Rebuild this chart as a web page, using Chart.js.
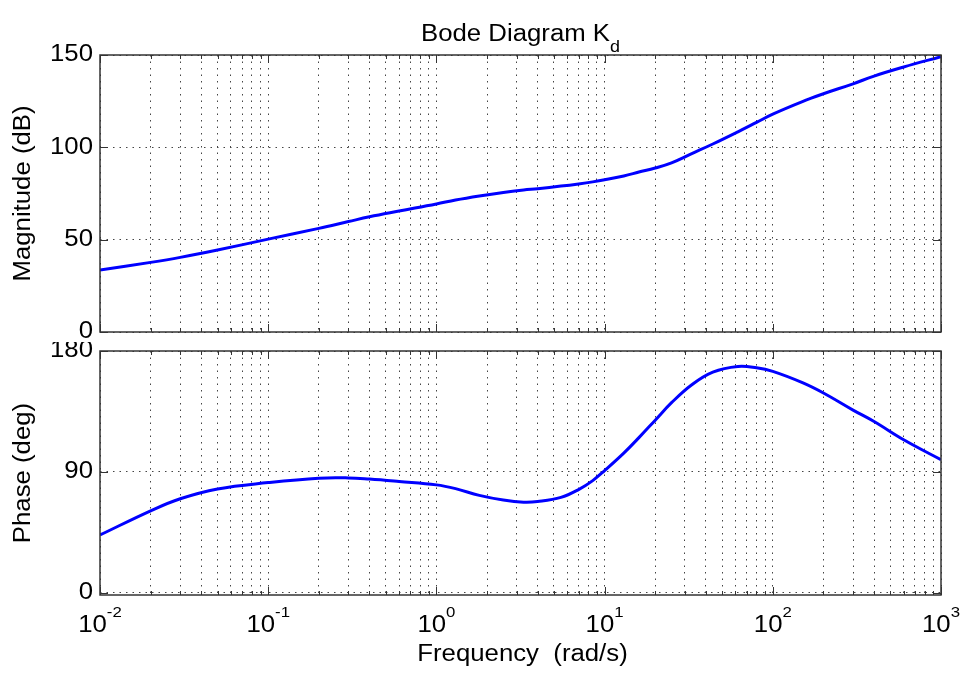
<!DOCTYPE html>
<html>
<head>
<meta charset="utf-8">
<title>Bode Diagram Kd</title>
<script src="https://cdn.jsdelivr.net/npm/chart.js@4.4.0/dist/chart.umd.min.js"></script>
<style>
  html, body { margin: 0; padding: 0; background: #fff; }
  #wrap { position: relative; width: 964px; height: 675px; overflow: hidden; }
  canvas { position: absolute; left: 0; }
  #magCanvas { top: 0; }
  #phaseCanvas { top: 342px; }
</style>
</head>
<body>
<div id="wrap">
  <canvas id="magCanvas" width="964" height="342"></canvas>
  <canvas id="phaseCanvas" width="964" height="333"></canvas>
</div>
<script>
// frequency response samples (rad/s)
const freqs = [0.01, 0.02, 0.03, 0.05, 0.1, 0.2, 0.3, 0.4, 0.6, 1, 1.3, 1.8, 2.5, 3.3, 4, 5.5, 7, 8.5,
               10, 13, 16, 20, 25, 33, 44, 62, 80, 100, 150, 200, 300, 400, 600, 1000];
const magnitudeDb = [33.6, 37.7, 40.4, 44.4, 50.3, 56.1, 59.8, 62.4, 65.5, 69.3, 71.5, 73.7, 75.6, 76.9, 77.6, 79.0, 80.2, 81.3,
                     82.4, 84.5, 86.6, 88.8, 91.6, 96.6, 101.8, 108.4, 113.5, 118.0, 124.8, 129.0, 134.4, 138.6, 143.5, 149.1];
const phaseDeg = [43.0, 61.0, 70.0, 77.3, 82.0, 85.3, 85.5, 84.6, 82.8, 80.3, 77.5, 72.5, 69.0, 67.4, 67.9, 71.0, 76.8, 83.5,
                  91.0, 104.0, 115.5, 128.5, 141.5, 154.9, 164.3, 168.5, 167.5, 164.8, 156.4, 148.7, 136.0, 127.5, 113.9, 99.0];

const decades = [0.01, 0.1, 1, 10, 100, 1000];
const decadeExponents = ['-2', '-1', '0', '1', '2', '3'];
const magTicks = [0, 50, 100, 150];
const phaseTicks = [0, 90, 180];

// 1..9 per decade for the dotted log grid
const gridFreqs = [];
decades.slice(0, -1).forEach(d => {
    for (let k = 1; k <= 9; k++) gridFreqs.push(d * k);
});
gridFreqs.push(decades[decades.length - 1]);

const FONT = "'Liberation Sans', Arial, sans-serif";
const STRETCH = 1.12;

function wideText(ctx, text, x, y, size, align, baseline, angle) {
    ctx.save();
    ctx.translate(x, y);
    if (angle) ctx.rotate(angle);
    ctx.scale(STRETCH, 1);
    ctx.font = size + 'px ' + FONT;
    ctx.textAlign = align;
    ctx.textBaseline = baseline;
    ctx.fillStyle = '#000';
    ctx.fillText(text, 0, 0);
    ctx.restore();
}

function wideWidth(ctx, text, size) {
    ctx.save();
    ctx.font = size + 'px ' + FONT;
    const w = ctx.measureText(text).width * STRETCH;
    ctx.restore();
    return w;
}

// axes box, inward tick marks and all labels
function bodeFrame(yTicks, drawExtras) {
    return {
        id: 'bodeFrame',
        afterDraw(chart) {
            const { ctx, chartArea: a, scales: { x, y } } = chart;
            ctx.save();
            ctx.strokeStyle = '#333';
            ctx.lineWidth = 1.5;
            ctx.strokeRect(a.left, a.top, a.right - a.left, a.bottom - a.top);

            ctx.lineWidth = 1;
            ctx.beginPath();
            gridFreqs.forEach(f => {
                const px = Math.round(x.getPixelForValue(f)) + 0.5;
                const len = decades.includes(f) ? 8 : 4;
                ctx.moveTo(px, a.top); ctx.lineTo(px, a.top + len);
                ctx.moveTo(px, a.bottom); ctx.lineTo(px, a.bottom - len);
            });
            yTicks.forEach(v => {
                const py = Math.round(y.getPixelForValue(v)) + 0.5;
                ctx.moveTo(a.left, py); ctx.lineTo(a.left + 8, py);
                ctx.moveTo(a.right, py); ctx.lineTo(a.right - 8, py);
            });
            ctx.stroke();
            ctx.restore();

            yTicks.forEach(v => {
                wideText(ctx, String(v), a.left - 7, y.getPixelForValue(v), 23, 'right', 'middle');
            });
            drawExtras(chart);
        }
    };
}

function bodeChart(canvasId, values, yMin, yMax, yTicks, padTop, xHeight, extras) {
    return new Chart(document.getElementById(canvasId), {
        type: 'line',
        data: {
            datasets: [{
                data: freqs.map((f, i) => ({ x: f, y: values[i] })),
                borderColor: '#0000ff',
                borderWidth: 3,
                pointRadius: 0,
                tension: 0.4,
                fill: false
            }]
        },
        options: {
            responsive: false,
            animation: false,
            events: [],
            layout: { padding: { top: padTop, right: 23, left: 0, bottom: 0 } },
            plugins: { legend: { display: false }, tooltip: { enabled: false }, title: { display: false } },
            scales: {
                x: {
                    type: 'logarithmic',
                    min: decades[0],
                    max: decades[decades.length - 1],
                    afterBuildTicks: s => { s.ticks = gridFreqs.map(v => ({ value: v })); },
                    afterFit: s => { s.height = xHeight; },
                    ticks: { display: false },
                    grid: { color: '#444', lineWidth: 1, drawTicks: false },
                    border: { display: false, dash: [1.5, 5] }
                },
                y: {
                    type: 'linear',
                    min: yMin,
                    max: yMax,
                    afterBuildTicks: s => { s.ticks = yTicks.map(v => ({ value: v })); },
                    afterFit: s => { s.width = 100; },
                    ticks: { display: false },
                    grid: { color: '#444', lineWidth: 1, drawTicks: false },
                    border: { display: false, dash: [1.5, 5] }
                }
            }
        },
        plugins: [bodeFrame(yTicks, extras)]
    });
}

// Magnitude panel with the figure title
bodeChart('magCanvas', magnitudeDb, 0, 150, magTicks, 55, 10, chart => {
    const { ctx, chartArea: a } = chart;
    const cx = (a.left + a.right) / 2;
    const main = 'Bode Diagram K';
    const wMain = wideWidth(ctx, main, 23);
    const wSub = wideWidth(ctx, 'd', 16);
    const start = cx - (wMain + wSub) / 2;
    wideText(ctx, main, start, 41, 23, 'left', 'alphabetic');
    wideText(ctx, 'd', start + wMain, 52, 16, 'left', 'alphabetic');
    wideText(ctx, 'Magnitude (dB)', 24, (a.top + a.bottom) / 2, 23, 'center', 'middle', -Math.PI / 2);
});

// Phase panel with the shared frequency axis
bodeChart('phaseCanvas', phaseDeg, -1.7, 180, phaseTicks, 9, 80, chart => {
    const { ctx, chartArea: a, scales: { x } } = chart;
    decades.forEach((d, i) => {
        const px = x.getPixelForValue(d);
        const wBase = wideWidth(ctx, '10', 23);
        const wExp = wideWidth(ctx, decadeExponents[i], 15);
        const start = px - (wBase + wExp) / 2;
        wideText(ctx, '10', start, 290, 23, 'left', 'alphabetic');
        wideText(ctx, decadeExponents[i], start + wBase, 275, 15, 'left', 'alphabetic');
    });
    wideText(ctx, 'Frequency  (rad/s)', (a.left + a.right) / 2 + 2, 319, 23, 'center', 'alphabetic');
    wideText(ctx, 'Phase (deg)', 24, (a.top + a.bottom) / 2, 23, 'center', 'middle', -Math.PI / 2);
});
</script>
</body>
</html>
